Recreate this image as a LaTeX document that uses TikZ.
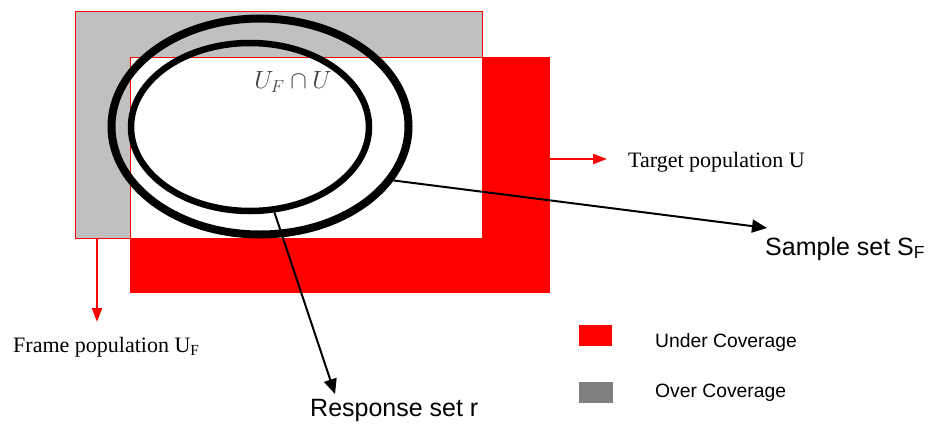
\documentclass[tikz,border=0pt]{standalone}
\usepackage{fontspec}
\setmainfont{Liberation Serif}
\setsansfont{Liberation Sans}
\usetikzlibrary{shapes.geometric,arrows.meta}
\definecolor{ovgray}{HTML}{C0C0C0}
\definecolor{leggray}{HTML}{808080}
\definecolor{pured}{HTML}{FF0000}
\begin{document}
\begin{tikzpicture}[x=1pt,y=-1pt,
  box/.style={draw=pured,line width=1pt,inner sep=0pt,outer sep=0pt,anchor=north west},
  ring/.style={draw=black,ellipse,inner sep=0pt},
  redarrow/.style={draw=pured,line width=2.2pt,-{Triangle[length=14pt,width=10pt]}},
  blackarrow/.style={draw=black,line width=2pt,-{Triangle[length=15pt,width=13pt]}},
  serlabel/.style={font=\fontsize{22}{26}\selectfont,inner sep=0pt,anchor=base west},
  sanlabel/.style={font=\sffamily\fontsize{25}{30}\selectfont,inner sep=0pt,anchor=base west},
  leglabel/.style={font=\sffamily\fontsize{19.3}{23}\selectfont,inner sep=0pt,anchor=base west}]
\useasboundingbox (0,0) rectangle (944,423);
% populations
\node[box,fill=ovgray,minimum width=407pt,minimum height=227pt] (frameRect) at (75,11) {};
\node[box,draw=none,fill=pured,minimum width=420pt,minimum height=236pt] (targetRect) at (130,57) {};
\node[box,fill=white,minimum width=352pt,minimum height=181pt] (overlap) at (130,57) {};
% sets
\node[ring,line width=8pt,minimum width=297pt,minimum height=216pt] (sample) at (260,126.5) {};
\node[ring,line width=6.5pt,minimum width=238pt,minimum height=168pt] (response) at (250,127) {};
\node[font=\fontsize{23}{26}\selectfont,text=black!75,inner sep=0pt] (ufu) at (293,82) {$U_F\cap U$};
% labels
\node[serlabel] (targetLbl) at (628,167) {Target population U};
\node[serlabel] (frameLbl) at (13,352) {Frame population U\textsubscript{F}};
\node[sanlabel] (sampleLbl) at (765,255) {Sample set S\textsubscript{F}};
\node[sanlabel] (respLbl) at (310,416) {Response set r};
% arrow tips
\coordinate (sampleTip) at (767,228);
\coordinate (respTip) at (335,394);
\coordinate (targetTip) at (607,159);
\coordinate (frameTip) at (97,322);
\draw[blackarrow] (sample.-22.5) -- (sampleTip);
\draw[blackarrow] (response.-74.7) -- (respTip);
\draw[redarrow] ([yshift=16pt]targetRect.east) -- (targetTip);
\draw[redarrow] ([xshift=22pt]frameRect.south west) -- (frameTip);
% legend
\node[box,draw=none,fill=pured,minimum width=33pt,minimum height=21pt] (legUnder) at (579,325) {};
\node[box,draw=none,fill=leggray,minimum width=34pt,minimum height=21pt] (legOver) at (579,382) {};
\node[leglabel] (legUnderLbl) at (655,347) {Under Coverage};
\node[leglabel] (legOverLbl) at (655,397) {Over Coverage};
\end{tikzpicture}
\end{document}
